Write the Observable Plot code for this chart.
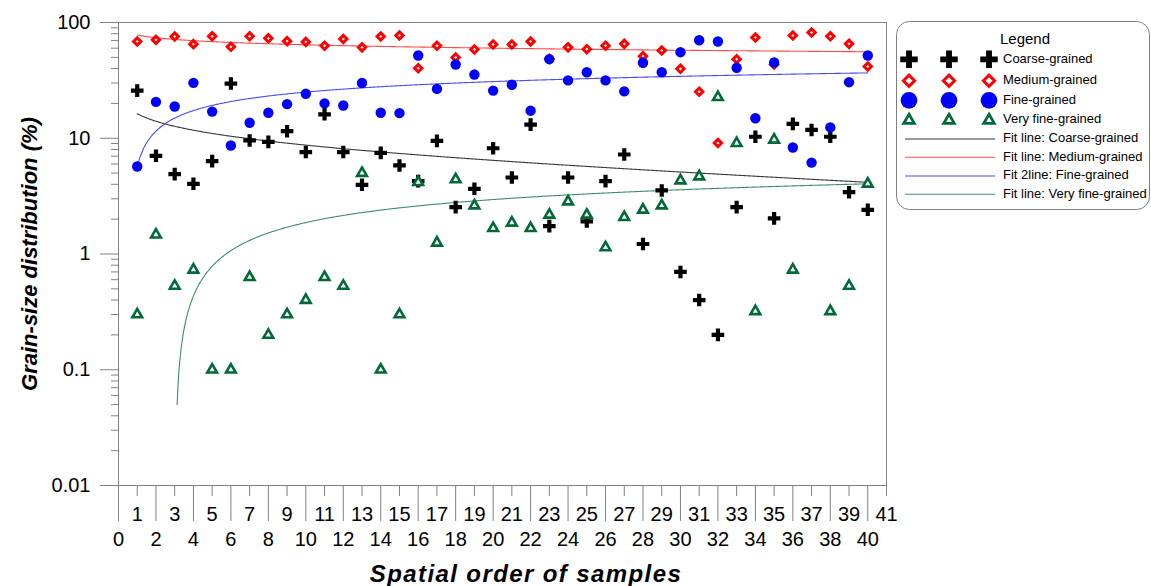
<!DOCTYPE html>
<html><head><meta charset="utf-8">
<script src="https://cdn.jsdelivr.net/npm/d3@7"></script>
<script src="https://cdn.jsdelivr.net/npm/@observablehq/plot@0.6"></script>
<style>
body{margin:0;background:#fff;font-family:"Liberation Sans",Arial,sans-serif;}
#wrap{position:relative;width:1151px;height:586px;overflow:hidden;}
#legend{position:absolute;left:896px;top:21px;}
#ytitle{position:absolute;left:30px;top:254px;transform:translate(-50%,-50%) rotate(-90deg);
  white-space:nowrap;font-weight:bold;font-style:italic;font-size:22px;color:#000;line-height:1;}
#xtitle{position:absolute;left:0;top:540px;}
</style></head><body><div id="wrap"></div>
<script>
// ---- data ----
const samples = [1,2,3,4,5,6,7,8,9,10,11,12,13,14,15,16,17,18,19,20,21,22,23,24,25,26,27,28,29,30,31,32,33,34,35,36,37,38,39,40];
const coarse = [25.8,7.05,4.9,4.04,6.34,29.7,9.57,9.3,11.5,7.6,16.1,7.6,3.96,7.48,5.82,4.26,9.5,2.54,3.66,8.2,4.58,13.1,1.74,4.58,1.91,4.26,7.24,1.22,3.54,0.7,0.4,0.2,2.54,10.3,2.03,13.3,11.8,10.3,3.42,2.41];
const medium = [68.5,70.8,75.7,65,76,61.7,76,73,69,68,63,72,61,75.7,77.2,40.3,62.9,49.9,58.5,64.6,64.6,68.5,48.6,61,58.8,63,65.4,51.2,57.3,39.8,25.2,9.1,48.2,74.2,43.4,77.2,82,76,65.4,41.7];
const fine = [5.7,20.6,18.8,30.1,17,8.66,13.6,16.6,19.7,24.2,20,19.2,30,16.6,16.5,51.9,26.7,43.4,35.5,25.8,29,17.3,48.2,31.6,37.2,31.6,25.4,44.9,37.2,55.4,70.3,68.5,40.6,14.9,45.1,8.32,6.16,12.4,30.5,51.9];
const veryFine = [0.3,1.47,0.53,0.73,0.1,0.1,0.63,0.2,0.3,0.4,0.63,0.53,5,0.1,0.3,4.17,1.25,4.4,2.62,1.67,1.86,1.67,2.18,2.84,2.18,1.14,2.08,2.41,2.62,4.31,4.67,22.6,9.05,0.32,9.7,0.73,null,0.32,0.53,4.04];

const seriesNames = ["Coarse-grained","Medium-grained","Fine-grained","Very fine-grained"];
// logarithmic fit lines: value = a + b*ln(sample)
const fitNames = ["Fit line: Coarse-grained","Fit line: Medium-grained","Fit 2line: Fine-grained","Fit line: Very fine-grained"];
const fitA = [16.3, 78.0, 5.7, -1.737];
const fitB = [-3.29, -6.0, 8.4, 1.566];
const fitStart = [1, 1, 1, 3.13];
const fitEnd = [40, 40, 40, 40];

const yMajorTicks = [0.01, 0.1, 1, 10, 100];
const yMinorTicks = [0.02,0.03,0.04,0.05,0.06,0.07,0.08,0.09,0.2,0.3,0.4,0.5,0.6,0.7,0.8,0.9,2,3,4,5,6,7,8,9,20,30,40,50,60,70,80,90];
const xOddTicks = [1,3,5,7,9,11,13,15,17,19,21,23,25,27,29,31,33,35,37,39,41];
const xEvenTicks = [0,2,4,6,8,10,12,14,16,18,20,22,24,26,28,30,32,34,36,38,40];

const xTitle = "Spatial order of samples";
const yTitle = "Grain-size distribution (%)";

// ---- styles ----
const dotColors = ["#000000", "#ff0000", "#0000ff", "#006a36"];
const fitColors = ["#3a3a3a", "#ff4a4a", "#4a4aff", "#3f8f66"];
const FONT = '"Liberation Sans", Arial, sans-serif';

const rowsFor = (vals) => samples.map((s, i) => ({x: s, y: vals[i]})).filter(d => d.y != null && d.y > 0);
const fitRows = (k) => {
  const out = [];
  for (let x = fitStart[k]; x <= fitEnd[k] + 1e-9; x += 0.05) {
    const v = fitA[k] + fitB[k] * Math.log(x);
    if (v > 0) out.push({x, y: v});
  }
  return out;
};

const plot = Plot.plot({
  width: 1151, height: 586,
  marginLeft: 118, marginRight: 265, marginTop: 22, marginBottom: 101,
  style: {fontFamily: FONT, fontSize: "20px", color: "black", background: "white", overflow: "visible"},
  x: {domain: [0, 41]},
  y: {type: "log", domain: [0.01, 100]},
  marks: [
    Plot.frame({stroke: "#808080"}),
    Plot.axisY({ticks: yMinorTicks, tickSize: 7, tickFormat: () => "", stroke: "#808080", label: null}),
    Plot.axisY({ticks: yMajorTicks, tickSize: 18, tickPadding: 10, tickFormat: d => String(d), stroke: "#808080", fill: "black", label: null}),
    Plot.axisX({ticks: xOddTicks, tickSize: 11, tickPadding: 10, tickFormat: d => String(d), stroke: "#808080", fill: "black", label: null}),
    Plot.axisX({ticks: xEvenTicks, tickSize: 36, tickPadding: 10, tickFormat: d => String(d), stroke: "#808080", fill: "black", label: null}),
    ...[0,1,2,3].map(k => Plot.line(fitRows(k), {x: "x", y: "y", stroke: fitColors[k], strokeWidth: 1.1, curve: "linear"})),
    Plot.dot(rowsFor(coarse), {x: "x", y: "y", symbol: "cross", r: 5.3, fill: dotColors[0], stroke: "none"}),
    Plot.dot(rowsFor(medium), {x: "x", y: "y", symbol: "diamond2", r: 3.3, fill: "white", stroke: dotColors[1], strokeWidth: 3}),
    Plot.dot(rowsFor(fine), {x: "x", y: "y", symbol: "circle", r: 5.2, fill: dotColors[2], stroke: "none"}),
    Plot.dot(rowsFor(veryFine), {x: "x", y: "y", symbol: "triangle", r: 3.6, fill: "white", stroke: dotColors[3], strokeWidth: 2.6})
  ]
});
const wrap = document.getElementById("wrap");
wrap.appendChild(plot);

// x-axis title (below the axis)
const xt = d3.select("#wrap").append("svg").attr("id", "xtitle").attr("width", 1151).attr("height", 46);
xt.append("text").attr("x", 526).attr("y", 42).attr("text-anchor", "middle")
  .attr("font-family", FONT).attr("font-weight", "bold").attr("font-style", "italic")
  .attr("font-size", 24).style("letter-spacing", "1.4px").text(xTitle);

// y-axis title (rotated, left of the axis)
const yt = document.createElement("div");
yt.id = "ytitle";
yt.textContent = yTitle;
wrap.appendChild(yt);

// ---- legend (right of the plot) ----
const LW = 256, LH = 190;
const lsvg = d3.select("#wrap").append("svg").attr("id", "legend")
  .attr("width", LW).attr("height", LH).style("font-family", FONT);
lsvg.append("rect").attr("x", 0.5).attr("y", 0.5).attr("width", LW - 3).attr("height", LH - 2)
  .attr("rx", 13).attr("fill", "white").attr("stroke", "#808080");
lsvg.append("text").attr("x", 129).attr("y", 19).attr("text-anchor", "middle")
  .attr("dominant-baseline", "middle").attr("font-size", 15).text("Legend");
const symRowY = [38.3, 59.7, 79.3, 98.3];
const symDefs = [
  {type: d3.symbolCross, size: 170, fill: dotColors[0], stroke: "none", sw: 0},
  {type: d3.symbolDiamond2, size: 80, fill: "white", stroke: dotColors[1], sw: 3},
  {type: d3.symbolCircle, size: 220, fill: dotColors[2], stroke: "none", sw: 0},
  {type: d3.symbolTriangle, size: 48, fill: "white", stroke: dotColors[3], sw: 2.8}
];
seriesNames.forEach((name, k) => {
  const s = symDefs[k];
  [13, 53, 93].forEach(cx => {
    lsvg.append("path").attr("d", d3.symbol(s.type, s.size)())
      .attr("transform", `translate(${cx},${symRowY[k] + (k === 3 ? 1 : 0)})`)
      .attr("fill", s.fill).attr("stroke", s.stroke).attr("stroke-width", s.sw);
  });
  lsvg.append("text").attr("x", 107).attr("y", symRowY[k]).attr("dominant-baseline", "middle")
    .attr("font-size", 13).text(name);
});
const lineRowY = [118, 136.3, 155, 173.3];
fitNames.forEach((name, k) => {
  lsvg.append("line").attr("x1", 9).attr("x2", 99).attr("y1", lineRowY[k]).attr("y2", lineRowY[k])
    .attr("stroke", fitColors[k]).attr("stroke-width", 1.1);
  lsvg.append("text").attr("x", 107).attr("y", lineRowY[k]).attr("dominant-baseline", "middle")
    .attr("font-size", 13).text(name);
});
</script></body></html>
